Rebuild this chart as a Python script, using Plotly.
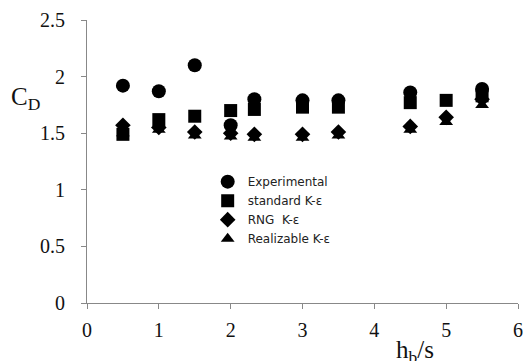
import plotly.graph_objects as go

hb_s = [0.5, 1.0, 1.5, 2.0, 2.33, 3.0, 3.5, 4.5, 5.0, 5.5]
experimental = [1.92, 1.87, 2.10, 1.57, 1.80, 1.79, 1.79, 1.86, None, 1.89]
standard_ke = [1.49, 1.62, 1.65, 1.70, 1.71, 1.73, 1.73, 1.77, 1.79, 1.83]
rng_ke = [1.57, 1.55, 1.51, 1.50, 1.49, 1.49, 1.51, 1.56, 1.64, 1.80]
realizable_ke = [1.50, 1.53, 1.48, 1.47, 1.46, 1.46, 1.48, 1.53, 1.60, 1.75]

series = [
    ("Experimental", experimental, "circle", 14),
    ("standard K-ε", standard_ke, "square", 13),
    ("RNG  K-ε", rng_ke, "diamond", 12),
    ("Realizable K-ε", realizable_ke, "triangle-up", 12),
]

fig = go.Figure()
for name, vals, sym, sz in series:
    fig.add_trace(go.Scatter(
        x=hb_s, y=vals, mode="markers", name=name,
        marker=dict(symbol=sym, size=sz, color="black"),
    ))

axis_common = dict(
    showgrid=False, zeroline=False, showline=True, linecolor="#888888", linewidth=1,
    ticks="outside", ticklen=5, tickcolor="#888888", automargin=False,
    tickfont=dict(family="Liberation Serif", size=20, color="#111111"),
)
fig.update_xaxes(range=[0, 6], dtick=1, ticklabelstandoff=4, **axis_common)
fig.update_yaxes(range=[0, 2.5], dtick=0.5, ticklabelstandoff=12, **axis_common)

fig.add_annotation(text="C<sub>D</sub>", xref="paper", yref="paper", x=-0.18, y=0.785,
                   showarrow=False, xanchor="left",
                   font=dict(family="Liberation Serif", size=25, color="#111111"))
fig.add_annotation(text="h<sub>b</sub>/s", xref="paper", yref="paper", x=0.76, y=-0.11,
                   showarrow=False, xanchor="center", yanchor="top",
                   font=dict(family="Liberation Serif", size=25, color="#111111"))

fig.update_layout(
    width=523, height=361,
    margin=dict(l=87, r=5, t=20, b=58),
    paper_bgcolor="white", plot_bgcolor="white",
    showlegend=True,
    legend=dict(x=0.28, y=0.48, xanchor="left", yanchor="top",
                font=dict(family="DejaVu Sans", size=12, color="#222222"),
                bgcolor="rgba(0,0,0,0)", itemwidth=30, tracegroupgap=0),
)

fig.write_html("out.html", config={"displayModeBar": False},
               post_script="document.body.style.margin='0px';")
